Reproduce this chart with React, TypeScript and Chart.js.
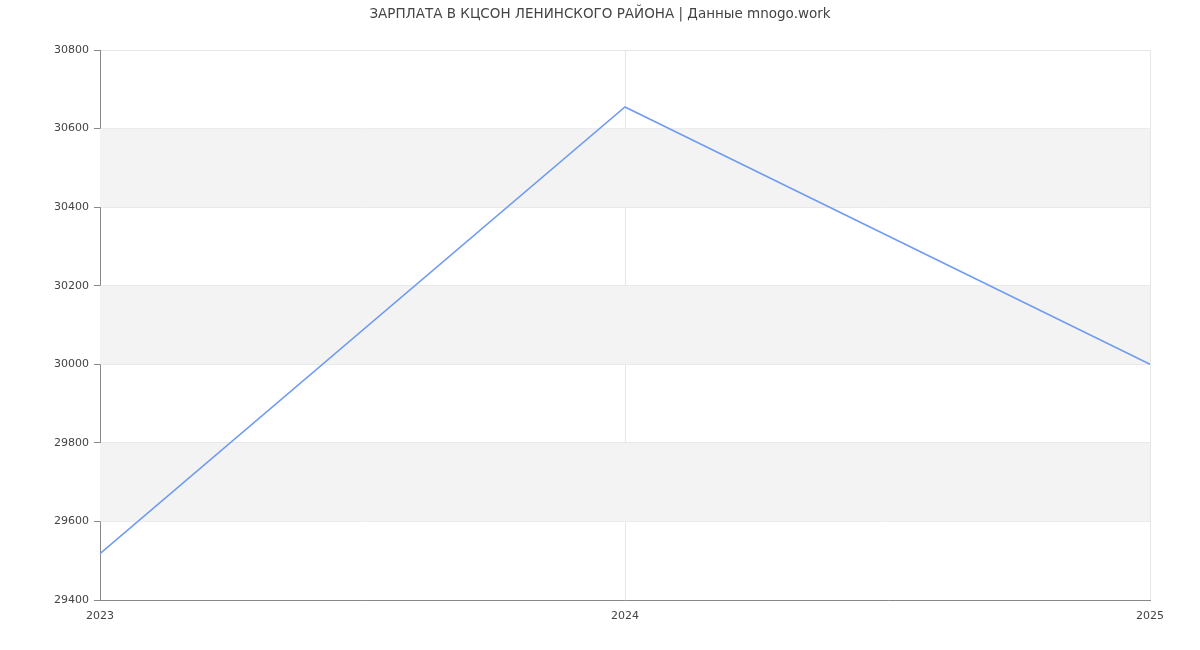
import { useEffect, useRef } from "react";
import { Chart, registerables } from "chart.js";

Chart.register(...registerables);

const years = ["2023", "2024", "2025"];
const salary = [29518, 30655, 30000];
const yMin = 29400;
const yMax = 30800;
const yStep = 200;

const TITLE = "ЗАРПЛАТА В КЦСОН ЛЕНИНСКОГО РАЙОНА | Данные mnogo.work";
const FONT = "'DejaVu Sans', sans-serif";

// alternating grey bands between y ticks
const bandsPlugin = {
  id: "bands",
  beforeDatasetsDraw(chart: Chart) {
    const { ctx, chartArea } = chart;
    const y = chart.scales.y;
    const ticks = y.ticks;
    ctx.save();
    ctx.fillStyle = "#f3f3f3";
    for (let i = 1; i < ticks.length - 1; i += 2) {
      const top = y.getPixelForValue(ticks[i + 1].value);
      const bottom = y.getPixelForValue(ticks[i].value);
      ctx.fillRect(chartArea.left, top, chartArea.right - chartArea.left, bottom - top);
    }
    ctx.restore();
  },
};

// title centred on the whole canvas, not the padded box
const titlePlugin = {
  id: "pageTitle",
  afterDraw(chart: Chart) {
    const { ctx, width } = chart;
    ctx.save();
    ctx.font = `13.5px ${FONT}`;
    ctx.fillStyle = "#444";
    ctx.textAlign = "center";
    ctx.textBaseline = "middle";
    ctx.fillText(TITLE, width / 2, 14);
    ctx.restore();
  },
};

export default function App() {
  const canvasRef = useRef<HTMLCanvasElement>(null);

  useEffect(() => {
    const el = canvasRef.current;
    if (!el) return;

    const chart = new Chart(el, {
      type: "line",
      data: {
        labels: years,
        datasets: [
          {
            label: "Зарплата",
            data: salary,
            borderColor: "#6f9cf0",
            borderWidth: 1.5,
            pointRadius: 0,
            tension: 0,
            fill: false,
          },
        ],
      },
      plugins: [bandsPlugin, titlePlugin],
      options: {
        responsive: true,
        maintainAspectRatio: false,
        animation: false,
        layout: { padding: { left: 0, right: 50, top: 50, bottom: 0 } },
        plugins: {
          legend: { display: false },
          tooltip: { enabled: false },
          title: { display: false },
        },
        scales: {
          x: {
            type: "category",
            offset: false,
            border: { color: "#888", width: 1 },
            grid: { color: "#e6e6e6", drawTicks: false },
            ticks: {
              color: "#444",
              font: { family: FONT, size: 11 },
              padding: 10,
              maxRotation: 0,
            },
            afterFit: (s: any) => {
              s.height = 50;
            },
          },
          y: {
            min: yMin,
            max: yMax,
            border: { color: "#888", width: 1 },
            grid: { color: "#e6e6e6", tickLength: 6, tickColor: "#888" },
            ticks: {
              stepSize: yStep,
              color: "#444",
              font: { family: FONT, size: 11 },
              padding: 5,
              callback: (v: any) => String(v),
            },
            afterFit: (s: any) => {
              s.width = 100;
            },
          },
        },
      },
    });

    return () => chart.destroy();
  }, []);

  return (
    <div style={{ position: "fixed", left: 0, top: 0, width: 1200, height: 650, background: "#fff" }}>
      <canvas ref={canvasRef} />
    </div>
  );
}
